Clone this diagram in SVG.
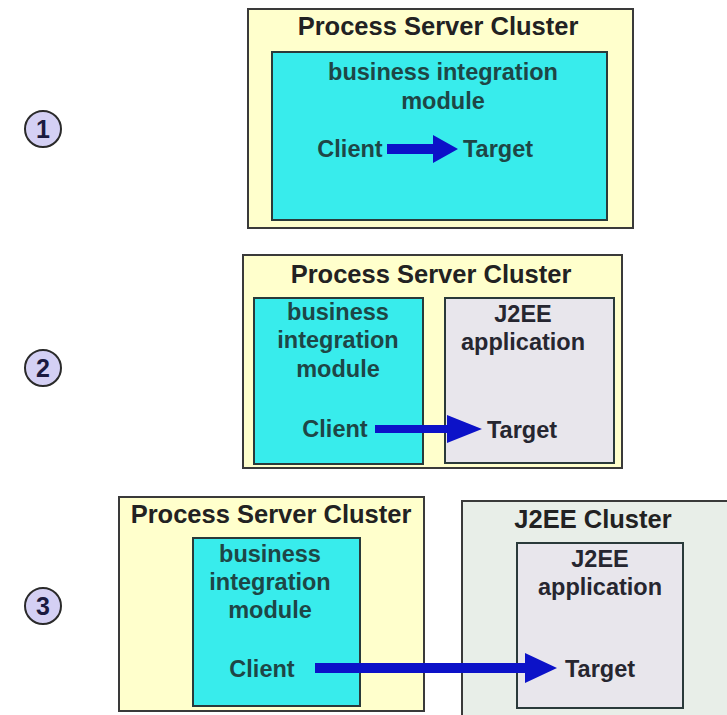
<svg xmlns="http://www.w3.org/2000/svg" width="727" height="715" viewBox="0 0 727 715">
<style>
.ps{fill:#ffffcc;stroke:#3a3a3a;stroke-width:2}
.jc{fill:#e8eee8;stroke:#3a3a3a;stroke-width:2}
.bim{fill:#38ecec;stroke:#2a3a3a;stroke-width:2}
.app{fill:#e8e6ec;stroke:#2a3a3a;stroke-width:2}
.num{fill:#d4d0f4;stroke:#2a2a2a;stroke-width:2}
text{font-family:"Liberation Sans",Arial,sans-serif;font-weight:bold;font-size:23.5px;text-anchor:middle}
.t{fill:#222;font-size:25.5px}
.i{fill:#1e4646}
.g{fill:#262630}
.n{font-size:25px;fill:#1a1a40}
.arr{fill:#0c12c8}
</style>
<rect width="727" height="715" fill="#ffffff"/>
<g id="step1"><circle class="num" cx="43" cy="129" r="18"/><text class="n" x="43" y="138">1</text></g>
<g id="step2"><circle class="num" cx="43" cy="368" r="18"/><text class="n" x="43" y="377">2</text></g>
<g id="step3"><circle class="num" cx="43" cy="606" r="18"/><text class="n" x="43" y="615">3</text></g>

<g id="psc1"><rect class="ps" x="248" y="9" width="385" height="219"/><text class="t" x="438" y="35">Process Server Cluster</text></g>
<g id="bim1"><rect class="bim" x="272" y="52" width="335" height="168"/><text class="i" x="443" y="80">business integration</text><text class="i" x="443" y="109">module</text></g>
<g id="client1"><text class="i" x="350" y="157">Client</text></g>
<g id="target1"><text class="i" x="498" y="157">Target</text></g>

<g id="psc2"><rect class="ps" x="243" y="255" width="379" height="213"/><text class="t" x="431" y="283">Process Server Cluster</text></g>
<g id="bim2"><rect class="bim" x="254" y="298" width="169" height="166"/><text class="i" x="338" y="320">business</text><text class="i" x="338" y="348">integration</text><text class="i" x="338" y="377">module</text></g>
<g id="app2"><rect class="app" x="445" y="298" width="169" height="165"/><text class="g" x="523" y="322">J2EE</text><text class="g" x="523" y="350">application</text></g>
<g id="client2"><text class="i" x="335" y="437">Client</text></g>
<g id="target2"><text class="g" x="522" y="438">Target</text></g>

<g id="psc3"><rect class="ps" x="119" y="497" width="305" height="214"/><text class="t" x="271" y="523">Process Server Cluster</text></g>
<g id="jc3"><rect class="jc" x="462" y="501" width="280" height="220"/><text class="t" x="593" y="528">J2EE Cluster</text></g>
<g id="bim3"><rect class="bim" x="193" y="538" width="167" height="168"/><text class="i" x="270" y="562">business</text><text class="i" x="270" y="590">integration</text><text class="i" x="270" y="618">module</text></g>
<g id="app3"><rect class="app" x="517" y="543" width="166" height="165"/><text class="g" x="600" y="567">J2EE</text><text class="g" x="600" y="595">application</text></g>
<g id="client3"><text class="i" x="262" y="677">Client</text></g>
<g id="target3"><text class="g" x="600" y="677">Target</text></g>

<g id="connectors">
<polygon class="arr" points="387,144 433,144 433,135 458,149 433,163 433,154 387,154"/>
<polygon class="arr" points="375,425 447,425 447,415 482,429 447,443 447,433 375,433"/>
<polygon class="arr" points="315,663 525,663 525,653 557,668 525,683 525,673 315,673"/>
</g>
</svg>
